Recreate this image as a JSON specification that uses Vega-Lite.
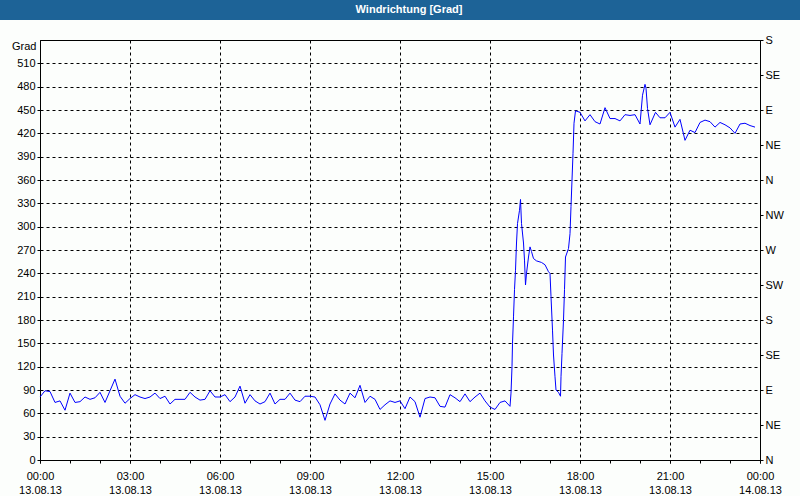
{
  "$schema": "https://vega.github.io/schema/vega-lite/v6.json",
  "padding": 0,
  "background": "#FCFEFC",
  "bounds": "flush",
  "center": true,
  "spacing": 20,
  "config": {
    "font": "Liberation Sans",
    "axis": {
      "labelFont": "Liberation Sans",
      "labelFontSize": 11,
      "labelColor": "#000000",
      "titleFont": "Liberation Sans",
      "titleFontSize": 11,
      "titleFontWeight": "normal",
      "titleColor": "#000000",
      "domainColor": "#000000",
      "tickColor": "#000000",
      "gridColor": "#000000",
      "gridDash": [3, 3],
      "gridOpacity": 1,
      "tickSize": 3,
      "labelPadding": 2
    }
  },
  "datasets": {
    "wind": [
      {"t": "2013-08-13T00:00", "v": 81},
      {"t": "2013-08-13T00:10", "v": 89},
      {"t": "2013-08-13T00:20", "v": 88},
      {"t": "2013-08-13T00:30", "v": 74},
      {"t": "2013-08-13T00:40", "v": 76},
      {"t": "2013-08-13T00:50", "v": 64},
      {"t": "2013-08-13T01:00", "v": 86},
      {"t": "2013-08-13T01:10", "v": 74},
      {"t": "2013-08-13T01:20", "v": 75},
      {"t": "2013-08-13T01:30", "v": 81},
      {"t": "2013-08-13T01:40", "v": 78},
      {"t": "2013-08-13T01:50", "v": 80},
      {"t": "2013-08-13T02:00", "v": 87},
      {"t": "2013-08-13T02:10", "v": 74},
      {"t": "2013-08-13T02:20", "v": 89},
      {"t": "2013-08-13T02:30", "v": 104},
      {"t": "2013-08-13T02:40", "v": 82},
      {"t": "2013-08-13T02:50", "v": 73},
      {"t": "2013-08-13T03:00", "v": 79},
      {"t": "2013-08-13T03:10", "v": 84},
      {"t": "2013-08-13T03:20", "v": 81},
      {"t": "2013-08-13T03:30", "v": 79},
      {"t": "2013-08-13T03:40", "v": 81},
      {"t": "2013-08-13T03:50", "v": 86},
      {"t": "2013-08-13T04:00", "v": 79},
      {"t": "2013-08-13T04:10", "v": 82},
      {"t": "2013-08-13T04:20", "v": 72},
      {"t": "2013-08-13T04:30", "v": 78},
      {"t": "2013-08-13T04:40", "v": 78},
      {"t": "2013-08-13T04:50", "v": 78},
      {"t": "2013-08-13T05:00", "v": 87},
      {"t": "2013-08-13T05:10", "v": 81},
      {"t": "2013-08-13T05:20", "v": 77},
      {"t": "2013-08-13T05:30", "v": 78},
      {"t": "2013-08-13T05:40", "v": 89},
      {"t": "2013-08-13T05:50", "v": 81},
      {"t": "2013-08-13T06:00", "v": 81},
      {"t": "2013-08-13T06:10", "v": 84},
      {"t": "2013-08-13T06:20", "v": 75},
      {"t": "2013-08-13T06:30", "v": 81},
      {"t": "2013-08-13T06:40", "v": 95},
      {"t": "2013-08-13T06:50", "v": 73},
      {"t": "2013-08-13T07:00", "v": 84},
      {"t": "2013-08-13T07:10", "v": 76},
      {"t": "2013-08-13T07:20", "v": 72},
      {"t": "2013-08-13T07:30", "v": 75},
      {"t": "2013-08-13T07:40", "v": 86},
      {"t": "2013-08-13T07:50", "v": 72},
      {"t": "2013-08-13T08:00", "v": 78},
      {"t": "2013-08-13T08:10", "v": 78},
      {"t": "2013-08-13T08:20", "v": 86},
      {"t": "2013-08-13T08:30", "v": 77},
      {"t": "2013-08-13T08:40", "v": 75},
      {"t": "2013-08-13T08:50", "v": 82},
      {"t": "2013-08-13T09:00", "v": 82},
      {"t": "2013-08-13T09:10", "v": 81},
      {"t": "2013-08-13T09:20", "v": 71},
      {"t": "2013-08-13T09:30", "v": 51},
      {"t": "2013-08-13T09:40", "v": 72},
      {"t": "2013-08-13T09:50", "v": 85},
      {"t": "2013-08-13T10:00", "v": 77},
      {"t": "2013-08-13T10:10", "v": 72},
      {"t": "2013-08-13T10:20", "v": 86},
      {"t": "2013-08-13T10:30", "v": 80},
      {"t": "2013-08-13T10:40", "v": 96},
      {"t": "2013-08-13T10:50", "v": 74},
      {"t": "2013-08-13T11:00", "v": 82},
      {"t": "2013-08-13T11:10", "v": 78},
      {"t": "2013-08-13T11:20", "v": 65},
      {"t": "2013-08-13T11:30", "v": 71},
      {"t": "2013-08-13T11:40", "v": 76},
      {"t": "2013-08-13T11:50", "v": 74},
      {"t": "2013-08-13T12:00", "v": 76},
      {"t": "2013-08-13T12:10", "v": 66},
      {"t": "2013-08-13T12:20", "v": 81},
      {"t": "2013-08-13T12:30", "v": 75},
      {"t": "2013-08-13T12:40", "v": 55},
      {"t": "2013-08-13T12:50", "v": 79},
      {"t": "2013-08-13T13:00", "v": 81},
      {"t": "2013-08-13T13:10", "v": 80},
      {"t": "2013-08-13T13:20", "v": 69},
      {"t": "2013-08-13T13:30", "v": 68},
      {"t": "2013-08-13T13:40", "v": 84},
      {"t": "2013-08-13T13:50", "v": 80},
      {"t": "2013-08-13T14:00", "v": 75},
      {"t": "2013-08-13T14:10", "v": 85},
      {"t": "2013-08-13T14:20", "v": 75},
      {"t": "2013-08-13T14:30", "v": 81},
      {"t": "2013-08-13T14:40", "v": 86},
      {"t": "2013-08-13T14:50", "v": 76},
      {"t": "2013-08-13T15:00", "v": 68},
      {"t": "2013-08-13T15:10", "v": 65},
      {"t": "2013-08-13T15:20", "v": 74},
      {"t": "2013-08-13T15:30", "v": 76},
      {"t": "2013-08-13T15:40", "v": 69},
      {"t": "2013-08-13T15:42", "v": 86},
      {"t": "2013-08-13T15:44", "v": 120},
      {"t": "2013-08-13T15:45", "v": 150},
      {"t": "2013-08-13T15:47", "v": 184},
      {"t": "2013-08-13T15:49", "v": 219},
      {"t": "2013-08-13T15:51", "v": 244},
      {"t": "2013-08-13T15:53", "v": 279},
      {"t": "2013-08-13T15:55", "v": 304},
      {"t": "2013-08-13T15:59", "v": 321},
      {"t": "2013-08-13T16:01", "v": 335},
      {"t": "2013-08-13T16:03", "v": 304},
      {"t": "2013-08-13T16:07", "v": 279},
      {"t": "2013-08-13T16:09", "v": 257},
      {"t": "2013-08-13T16:11", "v": 225},
      {"t": "2013-08-13T16:13", "v": 240},
      {"t": "2013-08-13T16:17", "v": 261},
      {"t": "2013-08-13T16:20", "v": 274},
      {"t": "2013-08-13T16:23", "v": 268},
      {"t": "2013-08-13T16:27", "v": 259},
      {"t": "2013-08-13T16:33", "v": 256},
      {"t": "2013-08-13T16:43", "v": 254},
      {"t": "2013-08-13T16:50", "v": 251},
      {"t": "2013-08-13T16:57", "v": 242},
      {"t": "2013-08-13T17:00", "v": 240},
      {"t": "2013-08-13T17:02", "v": 210},
      {"t": "2013-08-13T17:05", "v": 167},
      {"t": "2013-08-13T17:07", "v": 135},
      {"t": "2013-08-13T17:10", "v": 107},
      {"t": "2013-08-13T17:12", "v": 90},
      {"t": "2013-08-13T17:17", "v": 87},
      {"t": "2013-08-13T17:21", "v": 82},
      {"t": "2013-08-13T17:22", "v": 107},
      {"t": "2013-08-13T17:24", "v": 137},
      {"t": "2013-08-13T17:27", "v": 180},
      {"t": "2013-08-13T17:29", "v": 219},
      {"t": "2013-08-13T17:31", "v": 261},
      {"t": "2013-08-13T17:37", "v": 272},
      {"t": "2013-08-13T17:40", "v": 291},
      {"t": "2013-08-13T17:42", "v": 326},
      {"t": "2013-08-13T17:44", "v": 360},
      {"t": "2013-08-13T17:46", "v": 394},
      {"t": "2013-08-13T17:48", "v": 433},
      {"t": "2013-08-13T17:51", "v": 449},
      {"t": "2013-08-13T18:00", "v": 447},
      {"t": "2013-08-13T18:10", "v": 436},
      {"t": "2013-08-13T18:20", "v": 444},
      {"t": "2013-08-13T18:30", "v": 435},
      {"t": "2013-08-13T18:40", "v": 432},
      {"t": "2013-08-13T18:50", "v": 453},
      {"t": "2013-08-13T19:00", "v": 439},
      {"t": "2013-08-13T19:10", "v": 439},
      {"t": "2013-08-13T19:20", "v": 436},
      {"t": "2013-08-13T19:30", "v": 444},
      {"t": "2013-08-13T19:40", "v": 443},
      {"t": "2013-08-13T19:50", "v": 444},
      {"t": "2013-08-13T20:00", "v": 432},
      {"t": "2013-08-13T20:05", "v": 469},
      {"t": "2013-08-13T20:10", "v": 483},
      {"t": "2013-08-13T20:12", "v": 478},
      {"t": "2013-08-13T20:15", "v": 452},
      {"t": "2013-08-13T20:20", "v": 431},
      {"t": "2013-08-13T20:31", "v": 447},
      {"t": "2013-08-13T20:40", "v": 440},
      {"t": "2013-08-13T20:50", "v": 440},
      {"t": "2013-08-13T21:00", "v": 447},
      {"t": "2013-08-13T21:10", "v": 428},
      {"t": "2013-08-13T21:20", "v": 438},
      {"t": "2013-08-13T21:30", "v": 411},
      {"t": "2013-08-13T21:40", "v": 424},
      {"t": "2013-08-13T21:50", "v": 421},
      {"t": "2013-08-13T22:00", "v": 434},
      {"t": "2013-08-13T22:10", "v": 437},
      {"t": "2013-08-13T22:20", "v": 435},
      {"t": "2013-08-13T22:30", "v": 428},
      {"t": "2013-08-13T22:40", "v": 434},
      {"t": "2013-08-13T22:50", "v": 431},
      {"t": "2013-08-13T23:00", "v": 427},
      {"t": "2013-08-13T23:10", "v": 420},
      {"t": "2013-08-13T23:20", "v": 432},
      {"t": "2013-08-13T23:30", "v": 433},
      {"t": "2013-08-13T23:40", "v": 430},
      {"t": "2013-08-13T23:50", "v": 428}
    ]
  },
  "vconcat": [
    {
      "width": 800,
      "height": 20,
      "view": {"fill": "#1D6397", "stroke": null},
      "data": {"values": [{"label": "Windrichtung [Grad]"}]},
      "mark": {"type": "text", "color": "#FFFFFF", "font": "Liberation Sans", "fontWeight": "bold", "fontSize": 11, "dx": 9, "baseline": "middle"},
      "encoding": {"text": {"field": "label", "type": "nominal"}}
    },
    {
      "width": 720,
      "height": 420,
      "view": {"stroke": "#000000", "strokeWidth": 1},
      "data": {"name": "wind"},
      "layer": [
        {
          "mark": {"type": "line", "color": "#0000FF", "strokeWidth": 1},
          "encoding": {
            "x": {
              "field": "t",
              "type": "temporal",
              "scale": {"domain": [{"year": 2013, "month": 8, "date": 13, "hours": 0}, {"year": 2013, "month": 8, "date": 14, "hours": 0}], "nice": false},
              "axis": {
                "title": null,
                "orient": "bottom",
                "values": [
                  {"year": 2013, "month": 8, "date": 13, "hours": 0},
                  {"year": 2013, "month": 8, "date": 13, "hours": 3},
                  {"year": 2013, "month": 8, "date": 13, "hours": 6},
                  {"year": 2013, "month": 8, "date": 13, "hours": 9},
                  {"year": 2013, "month": 8, "date": 13, "hours": 12},
                  {"year": 2013, "month": 8, "date": 13, "hours": 15},
                  {"year": 2013, "month": 8, "date": 13, "hours": 18},
                  {"year": 2013, "month": 8, "date": 13, "hours": 21},
                  {"year": 2013, "month": 8, "date": 14, "hours": 0}
                ],
                "grid": true,
                "labelExpr": "[timeFormat(datum.value, '%H:%M'), timeFormat(datum.value, '%d.%m.%y')]",
                "labelOverlap": false,
                "labelFlush": false,
                "labelPadding": 7,
                "labelLineHeight": 14
              }
            },
            "y": {
              "field": "v",
              "type": "quantitative",
              "scale": {"domain": [0, 540], "nice": false},
              "axis": {
                "title": "Grad",
                "titleAngle": 0,
                "titleAlign": "right",
                "titleBaseline": "middle",
                "titleX": -4,
                "titleY": 6,
                "values": [0, 30, 60, 90, 120, 150, 180, 210, 240, 270, 300, 330, 360, 390, 420, 450, 480, 510],
                "grid": true
              }
            }
          }
        },
        {
          "mark": {"type": "line", "opacity": 0},
          "encoding": {
            "x": {
              "field": "t",
              "type": "temporal",
              "axis": {
                "orient": "bottom",
                "title": null,
                "labels": false,
                "grid": false,
                "domain": false,
                "tickCount": 24,
                "tickSize": 3
              }
            },
            "y": {
              "field": "v",
              "type": "quantitative",
              "scale": {"domain": [0, 540], "nice": false},
              "axis": {
                "orient": "right",
                "title": null,
                "grid": false,
                "values": [0, 45, 90, 135, 180, 225, 270, 315, 360, 405, 450, 495, 540],
                "labelExpr": "['N','NE','E','SE','S','SW','W','NW'][round(datum.value / 45) % 8]"
              }
            }
          }
        }
      ],
      "resolve": {"scale": {"y": "independent"}, "axis": {"x": "independent"}}
    }
  ]
}
